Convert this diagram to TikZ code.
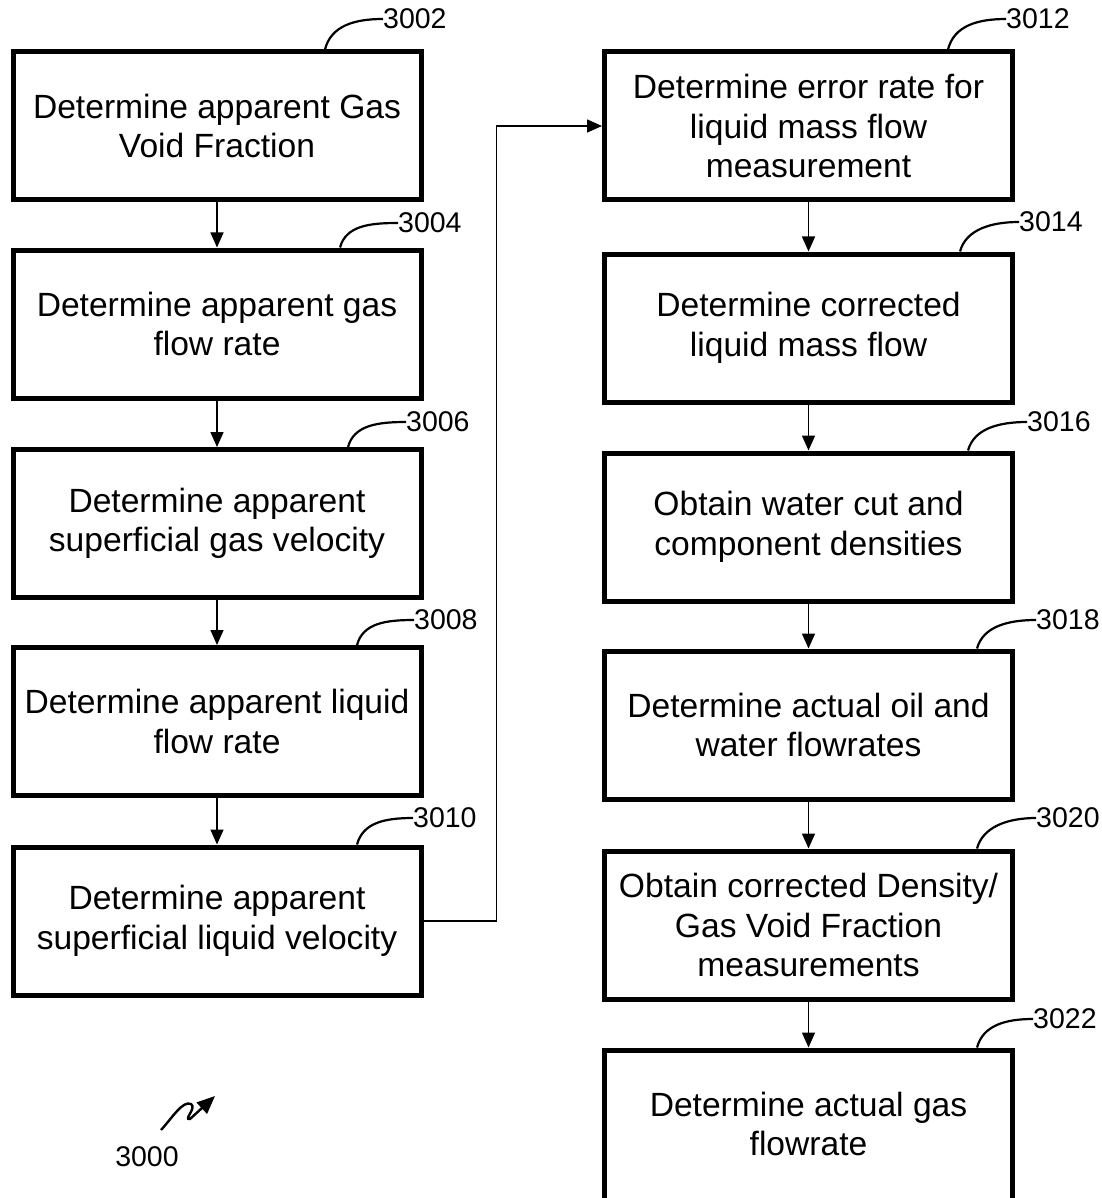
\documentclass[tikz,border=0pt]{standalone}
\usepackage{fontspec}
\setmainfont{Liberation Sans}
\usetikzlibrary{arrows.meta}
\begin{document}
\begin{tikzpicture}[x=1pt,y=-1pt,
  box/.style={draw, line width=5pt, minimum width=408pt, minimum height=148pt, inner sep=0pt, align=center, font=\fontsize{33.6}{39.5}\selectfont},
  plainbox/.style={minimum width=408pt, minimum height=148pt, inner sep=0pt, outer sep=0pt, align=center, font=\fontsize{33.6}{39.5}\selectfont},
  flow/.style={line width=1.5pt, -{Triangle[length=15pt,width=13pt]}},
  reflabel/.style={inner sep=0pt, anchor=west, font=\fontsize{28.5}{32}\selectfont},
  leader/.style={line width=2.2pt}]
\useasboundingbox (0,0) rectangle (1101,1198);

% left column
\node[box] (b3002) at (217,126) {Determine apparent Gas\\Void Fraction};
\node[box] (b3004) at (217,324) {Determine apparent gas\\flow rate};
\node[box] (b3006) at (217,523.5) {Determine apparent\\superficial gas velocity};
\node[box] (b3008) at (217,721.5) {Determine apparent liquid\\flow rate};
\node[box] (b3010) at (217,921) {Determine apparent\\superficial liquid velocity};
% right column
\node[box] (b3012) at (808.5,126) {Determine error rate for\\liquid mass flow\\measurement};
\node[box] (b3014) at (808.5,328) {Determine corrected\\liquid mass flow};
\node[box] (b3016) at (808.5,527) {Obtain water cut and\\component densities};
\node[box] (b3018) at (808.5,725) {Determine actual oil and\\water flowrates};
\node[box] (b3020) at (808.5,925) {Obtain corrected Density/\\Gas Void Fraction\\measurements};
\node[plainbox] (b3022) at (808.5,1124) {Determine actual gas\\flowrate};
\draw[line width=5pt] ([yshift=-30pt]b3022.south west) |- (b3022.north east) -- ([yshift=-30pt]b3022.south east);

% flow arrows
\draw[flow] (b3002.south) -- (b3004.north);
\draw[flow] (b3004.south) -- (b3006.north);
\draw[flow] (b3006.south) -- (b3008.north);
\draw[flow] (b3008.south) -- (b3010.north);
\draw[flow] (b3010.east) -- ++(73,0) |- (b3012.west);
\draw[flow] (b3012.south) -- (b3014.north);
\draw[flow] (b3014.south) -- (b3016.north);
\draw[flow] (b3016.south) -- (b3018.north);
\draw[flow] (b3018.south) -- (b3020.north);
\draw[flow, shorten >=2.5pt] (b3020.south) -- (b3022.north);

% reference labels
\node[reflabel] (l3002) at (383,19) {3002};
\node[reflabel] (l3004) at (398,223) {3004};
\node[reflabel] (l3006) at (406,422) {3006};
\node[reflabel] (l3008) at (414,620) {3008};
\node[reflabel] (l3010) at (413,818) {3010};
\node[reflabel] (l3012) at (1006,19) {3012};
\node[reflabel] (l3014) at (1019,222) {3014};
\node[reflabel] (l3016) at (1027,422) {3016};
\node[reflabel] (l3018) at (1036,620) {3018};
\node[reflabel] (l3020) at (1036,818) {3020};
\node[reflabel] (l3022) at (1033,1019) {3022};

\draw[leader] ([xshift=108pt]b3002.north) .. controls +(6,-24) and +(-28,0) .. (l3002.west);
\draw[leader] ([xshift=123pt]b3004.north) .. controls +(6,-22) and +(-28,0) .. (l3004.west);
\draw[leader] ([xshift=131pt]b3006.north) .. controls +(6,-22) and +(-28,0) .. (l3006.west);
\draw[leader] ([xshift=140pt]b3008.north) .. controls +(6,-22) and +(-28,0) .. (l3008.west);
\draw[leader] ([xshift=140pt]b3010.north) .. controls +(6,-22) and +(-28,0) .. (l3010.west);
\draw[leader] ([xshift=139.5pt]b3012.north) .. controls +(6,-24) and +(-28,0) .. (l3012.west);
\draw[leader] ([xshift=151.5pt]b3014.north) .. controls +(6,-22) and +(-28,0) .. (l3014.west);
\draw[leader] ([xshift=159.5pt]b3016.north) .. controls +(6,-22) and +(-28,0) .. (l3016.west);
\draw[leader] ([xshift=168.5pt]b3018.north) .. controls +(6,-22) and +(-28,0) .. (l3018.west);
\draw[leader] ([xshift=168.5pt]b3020.north) .. controls +(6,-22) and +(-28,0) .. (l3020.west);
\draw[leader] ([xshift=168.5pt,yshift=2.5pt]b3022.north) .. controls +(6,-22) and +(-28,0) .. (l3022.west);

% figure reference
\node[reflabel, anchor=center] (l3000) at (147,1157) {3000};
\coordinate (s0) at (161,1130);
\coordinate (s1) at (215,1096);
\draw[line width=2.4pt, -{Triangle[length=18pt,width=15pt]}] (s0) .. controls (172,1118) and (183,1100) .. (191,1104) .. controls (197,1108) and (183,1120) .. (190,1119) -- (s1);
\end{tikzpicture}
\end{document}
